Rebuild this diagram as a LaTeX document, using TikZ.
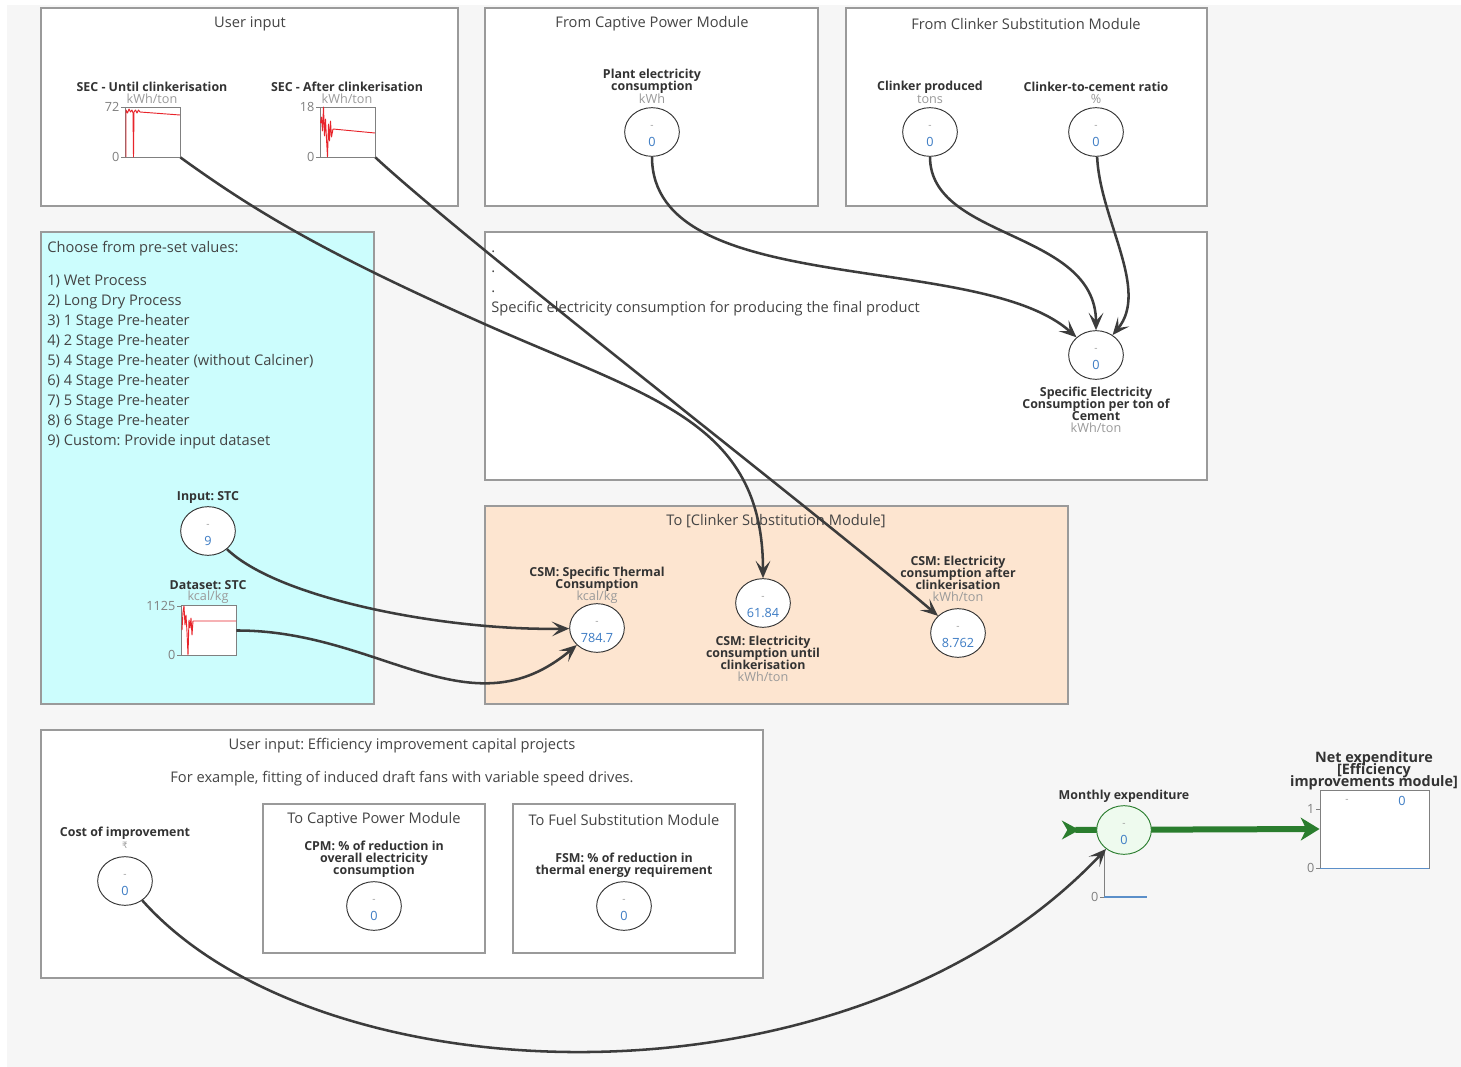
\documentclass[tikz,border=0pt]{standalone}
\usepackage{fontspec}
\setmainfont{Open Sans}
\newfontfamily\symf{DejaVu Sans}
\usetikzlibrary{arrows.meta,shapes.geometric,calc}
\frenchspacing
\newcommand\tightlines{\lineskiplimit=-50pt\relax\lineskip=0pt\relax}
\definecolor{bgc}{HTML}{F6F6F6}
\definecolor{panelb}{HTML}{9A9A9A}
\definecolor{titc}{HTML}{444444}
\definecolor{labc}{HTML}{333333}
\definecolor{unitc}{HTML}{9A9A9A}
\definecolor{valc}{HTML}{3D7CC4}
\definecolor{cyanf}{HTML}{CCFDFD}
\definecolor{peachf}{HTML}{FDE5D0}
\definecolor{arrc}{HTML}{3C3C3C}
\definecolor{flowc}{HTML}{2A7D2E}
\definecolor{monf}{HTML}{EEFAEE}
\definecolor{redc}{HTML}{E8242B}
\definecolor{axc}{HTML}{808080}
\definecolor{bluel}{HTML}{5B8FC9}
\tikzset{
 panel/.style={draw=panelb, line width=0.9pt, fill=white},
 ttl/.style={text=titc, font=\fontsize{11}{13}\selectfont, inner sep=0},
 lbl/.style={text=labc, font=\bfseries\fontsize{9.3}{9}\selectfont\tightlines, align=center, inner sep=0},
 unit/.style={text=unitc, font=\fontsize{9.5}{10}\selectfont, inner sep=0},
 circ/.style={ellipse, draw=labc, line width=0.7pt, fill=white, minimum width=41pt, minimum height=36.5pt, inner sep=0},
 dsh/.style={text=unitc, font=\fontsize{7.5}{8}\selectfont, inner sep=0},
 val/.style={text=valc, font=\fontsize{9.5}{10}\selectfont, inner sep=0},
 chart/.style={draw=axc, line width=0.7pt, fill=white, minimum width=41.25pt, minimum height=37.5pt, inner sep=0},
 axl/.style={text=axc, font=\fontsize{9.5}{10}\selectfont, inner sep=1pt, anchor=east},
 tick/.style={draw=axc, line width=0.6pt},
 conn/.style={draw=arrc, line width=1.9pt, -{Stealth[length=13pt,width=11pt,inset=6pt]}},
 data/.style={draw=redc, line width=0.7pt, line join=round},
 lst/.style={text=titc, font=\fontsize{11}{13}\selectfont, inner sep=0, anchor=base west},
}
\newcommand\mkcirc[4][]{%
 \node[circ,#1] (#2) at (#3) {};
 \node[dsh] (#2d) at ($(#2)+(0,-5)$) {-};
 \node[val] (#2v) at ($(#2)+(0,10)$) {#4};
}
\begin{document}
\begin{tikzpicture}[x=0.75pt,y=-0.75pt]
\useasboundingbox (0,0) rectangle (1461,1067);
\fill[white] (0,0) rectangle (1461,1067);
\fill[bgc] (7,5) rectangle (1461,1067);

% ---------- Panel 1: User input
\draw[panel] (41,8) rectangle (458,206);
\node[ttl] (p1t) at (250,24) {User input};
\node[lbl] (l1) at (152,87) {SEC - Until clinkerisation};
\node[unit] (u1) at (152,99) {kWh/ton};
\node[chart] (ch1) at (152.5,132) {};
\draw[tick] (121,107)--(125,107) (121,157)--(125,157);
\node[axl] (ch1a) at (121,107) {72};
\node[axl] (ch1b) at (121,157) {0};
\draw[data] (126,157) -- (126,110) -- (127.5,113) -- (129,109) -- (130.5,112) -- (132,110) -- (133,113) -- (133.5,157) -- (134,112) -- (135.5,110) -- (137,113) -- (138.5,110) -- (140,112) -- (180,115);

\node[lbl] (l2) at (347,87) {SEC - After clinkerisation};
\node[unit] (u2) at (347,99) {kWh/ton};
\node[chart] (ch2) at (347.5,132) {};
\draw[tick] (316,107)--(320,107) (316,157)--(320,157);
\node[axl] (ch2a) at (316,107) {18};
\node[axl] (ch2b) at (316,157) {0};
\draw[data] (320.5,123) -- (321.5,117) -- (322.5,131) -- (323.5,107) -- (324.5,136) -- (325.5,119) -- (326.5,139) -- (327.5,157) -- (328.5,124) -- (329.5,141) -- (330.5,121) -- (331.5,137) -- (333,129) -- (375,133);

% ---------- Panel 2: Captive power
\draw[panel] (485,8) rectangle (818,206);
\node[ttl] (p2t) at (652,24) {From Captive Power Module};
\node[lbl] (l3) at (652,81) {Plant electricity\\consumption};
\node[unit] (u3) at (652,99) {kWh};
\mkcirc{cpl}{652,132}{0}

% ---------- Panel 3: Clinker substitution
\draw[panel] (846,8) rectangle (1207,206);
\node[ttl] (p3t) at (1026,24) {From Clinker Substitution Module};
\node[lbl] (l4) at (930,87) {Clinker produced};
\node[unit] (u4) at (930,99) {tons};
\mkcirc{ccp}{930,132}{0}
\node[lbl] (l5) at (1096,87) {Clinker-to-cement ratio};
\node[unit] (u5) at (1096,99) {\%};
\mkcirc{ccr}{1096,132}{0}

% ---------- Panel 4: final product
\draw[panel] (485,232) rectangle (1207,480);
\node[lst] (dot1) at (491,252) {.};
\node[lst] (dot2) at (491,272) {.};
\node[lst] (dot3) at (491,292) {.};
\node[lst] (p4t) at (491,312) {Specific electricity consumption for producing the final product};
\mkcirc{cse}{1096,355}{0}
\node[lbl] (l6) at (1096,404) {Specific Electricity\\Consumption per ton of\\Cement};
\node[unit] (u6) at (1096,428) {kWh/ton};

% ---------- Panel 5: cyan presets
\draw[panel, fill=cyanf] (41,232) rectangle (374,704);
\node[lst] (p5t) at (47,252) {Choose from pre-set values:};
\foreach \t [count=\i] in {1) Wet Process, 2) Long Dry Process, 3) 1 Stage Pre-heater, 4) 2 Stage Pre-heater, 5) 4 Stage Pre-heater (without Calciner), 6) 4 Stage Pre-heater, 7) 5 Stage Pre-heater, 8) 6 Stage Pre-heater, 9) Custom: Provide input dataset}
  \node[lst] (li\i) at (47,265+20*\i) {\t};
\node[lbl] (l7) at (208,497) {Input: STC};
\mkcirc{inp}{208,531}{9}
\node[lbl] (l8) at (208,585) {Dataset: STC};
\node[unit] (u8) at (208,597) {kcal/kg};
\node[chart] (ds) at (208.5,630.5) {};
\draw[tick] (177,606)--(181,606) (177,655)--(181,655);
\node[axl] (dsa) at (177,606) {1125};
\node[axl] (dsb) at (177,655) {0};
\draw[data] (182,630) -- (183,612) -- (184,606) -- (185,625) -- (186,615) -- (187,632) -- (188,655) -- (189,620) -- (190,628) -- (191,618) -- (192,635) -- (193,621) -- (236,621);

% ---------- Panel 6: peach output
\draw[panel, fill=peachf] (485,506) rectangle (1068,704);
\node[ttl] (p6t) at (776,521) {To [Clinker Substitution Module]};
\node[lbl] (l9) at (597,579) {CSM: Specific Thermal\\Consumption};
\node[unit] (u9) at (597,597) {kcal/kg};
\mkcirc{cst}{597,628}{784.7}
\mkcirc{cun}{763,603}{61.84}
\node[lbl] (l10) at (763,653) {CSM: Electricity\\consumption until\\clinkerisation};
\node[unit] (u10) at (763,677) {kWh/ton};
\node[lbl] (l11) at (958,573) {CSM: Electricity\\consumption after\\clinkerisation};
\node[unit] (u11) at (958,597) {kWh/ton};
\mkcirc{caf}{958,633}{8.762}

% ---------- Panel 7: efficiency projects
\draw[panel] (41,730) rectangle (763,978);
\node[ttl] (p7t) at (402,746) {User input: Efficiency improvement capital projects};
\node[ttl] (p7s) at (402,779) {For example, fitting of induced draft fans with variable speed drives.};
\node[lbl] (l12) at (125,833) {Cost of improvement};
\node[unit] (u12) at (125,845) {\symf\fontsize{6.5}{7}\selectfont ₹};
\mkcirc{cost}{125,881}{0}
\draw[panel] (263,804) rectangle (485,953);
\node[ttl] (p8t) at (374,820) {To Captive Power Module};
\node[lbl] (l13) at (374,859) {CPM: \% of reduction in\\overall electricity\\consumption};
\mkcirc{cpm}{374,906}{0}
\draw[panel] (513,804) rectangle (735,953);
\node[ttl] (p9t) at (624,820) {To Fuel Substitution Module};
\node[lbl] (l14) at (624,865) {FSM: \% of reduction in\\thermal energy requirement};
\mkcirc{fsm}{624,906}{0}

% ---------- Right: monthly & net expenditure
\node[lbl] (l15) at (1124,796) {Monthly expenditure};
\node[lbl, font=\bfseries\fontsize{10.8}{9}\selectfont\tightlines] (l16) at (1374,771) {Net expenditure\\{[}Efficiency\\improvements module{]}};
\node[draw=axc, line width=0.7pt, fill=white, minimum width=81.75pt, minimum height=58.5pt, inner sep=0] (netbox) at (1374.5,829) {};
\draw[bluel, line width=0.9pt] (netbox.south west) -- (netbox.south east);
\draw[tick] (1316,809)--(1320,809) (1316,868)--(1320,868);
\node[axl] (na) at (1316,809) {1};
\node[axl] (nb) at (1316,868) {0};
\node[dsh] (nd) at (1347,801) {-};
\node[val] (nv) at (1402,801) {0};
\draw[tick] (1104,852) -- (1104,897);
\draw[tick] (1100,897) -- (1104,897);
\node[axl] (ma) at (1100,897) {0};
\draw[bluel, line width=0.9pt] (1104,897) -- (1147,897);
\coordinate (flowin) at (1062,830);
\draw[flowc, line width=4.5pt, {Stealth[reversed,length=13pt,width=14pt,inset=4pt]}-{Stealth[length=14pt,width=17pt,inset=4pt]}] (flowin) -- (netbox.west);
\mkcirc[draw=flowc, fill=monf]{mon}{1124,830}{0}

% ---------- Connectors
\draw[conn] (ch1.south east) .. controls (260,215) and (330,255) .. (480,322) .. controls (650,398) and (763,420) .. (cun);
\draw[conn] (ch2.south east) .. controls (470,245) and (820,515) .. (caf);
\draw[conn] (cpl) .. controls (652,300) and (980,250) .. (cse);
\draw[conn] (ccp) .. controls (930,240) and (1096,230) .. (cse);
\draw[conn] (ccr) .. controls (1100,220) and (1150,290) .. (cse);
\draw[conn] (inp) .. controls (280,600) and (450,631) .. (cst);
\draw[conn] (ds.east) .. controls (380,630) and (470,735) .. (cst);
\draw[conn] (cost) .. controls (320,1100) and (850,1120) .. (mon);
\end{tikzpicture}
\end{document}
